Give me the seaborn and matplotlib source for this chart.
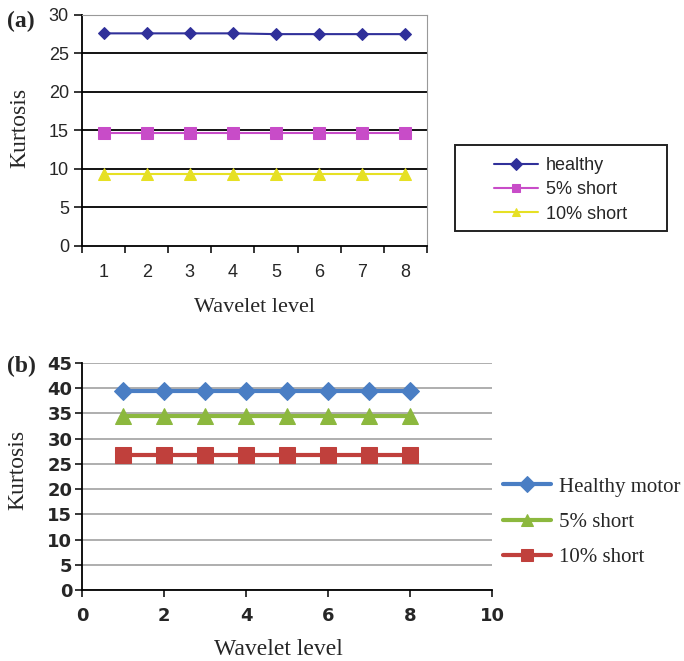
import numpy as np
import pandas as pd
import seaborn as sns
import matplotlib.pyplot as plt
from matplotlib.patches import Rectangle
from matplotlib.ticker import MultipleLocator, FixedLocator

# panel (a)
levels = [1, 2, 3, 4, 5, 6, 7, 8]
a_healthy = [27.6, 27.6, 27.6, 27.6, 27.5, 27.5, 27.5, 27.5]
a_short5 = [14.6, 14.6, 14.6, 14.6, 14.6, 14.6, 14.6, 14.6]
a_short10 = [9.4, 9.4, 9.4, 9.4, 9.4, 9.4, 9.4, 9.4]
a_names = ["healthy", "5% short", "10% short"]

# panel (b)
b_healthy = [39.5, 39.5, 39.5, 39.5, 39.5, 39.5, 39.5, 39.5]
b_short5 = [34.5, 34.5, 34.5, 34.5, 34.5, 34.5, 34.5, 34.5]
b_short10 = [26.8, 26.8, 26.8, 26.8, 26.8, 26.8, 26.8, 26.8]
b_names = ["Healthy motor", "5% short", "10% short"]

sns.set_style("white")
plt.rcParams['font.family'] = ['Liberation Sans', 'DejaVu Sans']

fig = plt.figure(figsize=(6.84, 6.61), dpi=100)
serif = 'Liberation Serif'

# ---------------- (a)
ax1 = fig.add_axes([0.12, 0.628, 0.504, 0.3495])
dfa = pd.DataFrame({"level": levels * 3,
                    "value": a_healthy + a_short5 + a_short10,
                    "series": np.repeat(a_names, len(levels))})
pal_a = {"healthy": "#30309a", "5% short": "#c84cc8", "10% short": "#e6e024"}
mk_a = {"healthy": "D", "5% short": "s", "10% short": "^"}
ms_a = {"healthy": 6, "5% short": 8.5, "10% short": 8.5}
for name in a_names:
    d = dfa[dfa.series == name]
    sns.lineplot(data=d, x="level", y="value", ax=ax1, color=pal_a[name],
                 marker=mk_a[name], markersize=ms_a[name],
                 markeredgecolor=pal_a[name], linewidth=1.5, label=name)
ax1.set_xlim(0.5, 8.5)
ax1.set_ylim(0, 30)
ax1.yaxis.set_major_locator(MultipleLocator(5))
ax1.set_xticks(levels)
ax1.xaxis.set_minor_locator(FixedLocator(np.arange(0.5, 9, 1)))
ax1.tick_params(axis='x', which='major', length=0, labelsize=13, pad=13)
ax1.tick_params(axis='x', which='minor', length=5, width=1.3, direction='out', bottom=True)
ax1.tick_params(axis='y', length=5.5, width=1.3, direction='out', left=True, labelsize=13, pad=4)
for y in range(5, 30, 5):
    ax1.axhline(y, color='black', linewidth=1.3, zorder=0)
ax1.spines['left'].set_color('black')
ax1.spines['bottom'].set_color('black')
ax1.spines['left'].set_linewidth(1.3)
ax1.spines['bottom'].set_linewidth(1.3)
ax1.spines['top'].set_color('#999999')
ax1.spines['right'].set_color('#999999')
ax1.set_xlabel("Wavelet level", family=serif, fontsize=16, va='center')
ax1.xaxis.set_label_coords(0.5, -0.265)
ax1.set_ylabel("Kurtosis", family=serif, fontsize=17, va='center')
ax1.yaxis.set_label_coords(-0.18, 0.51)
leg = ax1.legend(loc='center left', bbox_to_anchor=(0.722, 0.7126),
                 bbox_transform=fig.transFigure, frameon=False, fontsize=13,
                 handlelength=2.45, borderpad=0, labelspacing=0.4,
                 borderaxespad=0, handletextpad=0.45)
for h in leg.legend_handles:
    h.set_markersize(6)
fig.patches.append(Rectangle((0.6652, 0.6505), 0.31, 0.130, transform=fig.transFigure,
                             fill=False, edgecolor='#222222', linewidth=1.4))
fig.text(0.01, 0.967, "(a)", family=serif, fontweight='bold', fontsize=17, va='center')

# ---------------- (b)
ax2 = fig.add_axes([0.12, 0.1074, 0.5994, 0.3434])
dfb = pd.DataFrame({"level": levels * 3,
                    "value": b_healthy + b_short5 + b_short10,
                    "series": np.repeat(b_names, len(levels))})
pal_b = {"Healthy motor": "#4a7ec4", "5% short": "#8cb83e", "10% short": "#c0403c"}
mk_b = {"Healthy motor": "D", "5% short": "^", "10% short": "s"}
ms_b = {"Healthy motor": 9, "5% short": 12, "10% short": 11.5}
for name in b_names:
    d = dfb[dfb.series == name]
    sns.lineplot(data=d, x="level", y="value", ax=ax2, color=pal_b[name],
                 marker=mk_b[name], markersize=ms_b[name],
                 markeredgecolor=pal_b[name], linewidth=3, label=name)
ax2.set_xlim(0, 10)
ax2.set_ylim(0, 45)
ax2.yaxis.set_major_locator(MultipleLocator(5))
ax2.xaxis.set_major_locator(MultipleLocator(2))
ax2.grid(axis='y', color='#999999', linewidth=1.1)
ax2.set_axisbelow(True)
ax2.tick_params(axis='both', length=5, width=1.3, direction='out',
                left=True, bottom=True, labelsize=13)
ax2.tick_params(axis='y', pad=2)
ax2.tick_params(axis='x', pad=7)
for lab in ax2.get_xticklabels() + ax2.get_yticklabels():
    lab.set_fontweight('bold')
    lab.set_family('DejaVu Sans')
ax2.spines['top'].set_visible(False)
ax2.spines['right'].set_visible(False)
ax2.spines['left'].set_color('black')
ax2.spines['bottom'].set_color('black')
ax2.spines['left'].set_linewidth(1.3)
ax2.spines['bottom'].set_linewidth(1.3)
ax2.set_xlabel("Wavelet level", family=serif, fontsize=17, va='center')
ax2.xaxis.set_label_coords(0.478, -0.262)
ax2.set_ylabel("Kurtosis", family=serif, fontsize=17, va='center')
ax2.yaxis.set_label_coords(-0.156, 0.53)
leg2 = ax2.legend(loc='center left', bbox_to_anchor=(0.736, 0.21),
                  bbox_transform=fig.transFigure, frameon=False,
                  prop={'family': serif, 'size': 15},
                  handlelength=2.3, labelspacing=0.75, borderaxespad=0,
                  borderpad=0, handletextpad=0.35)
for h in leg2.legend_handles:
    h.set_markersize(8)
fig.text(0.01, 0.446, "(b)", family=serif, fontweight='bold', fontsize=17, va='center')

fig.savefig("out.png", dpi=100)
